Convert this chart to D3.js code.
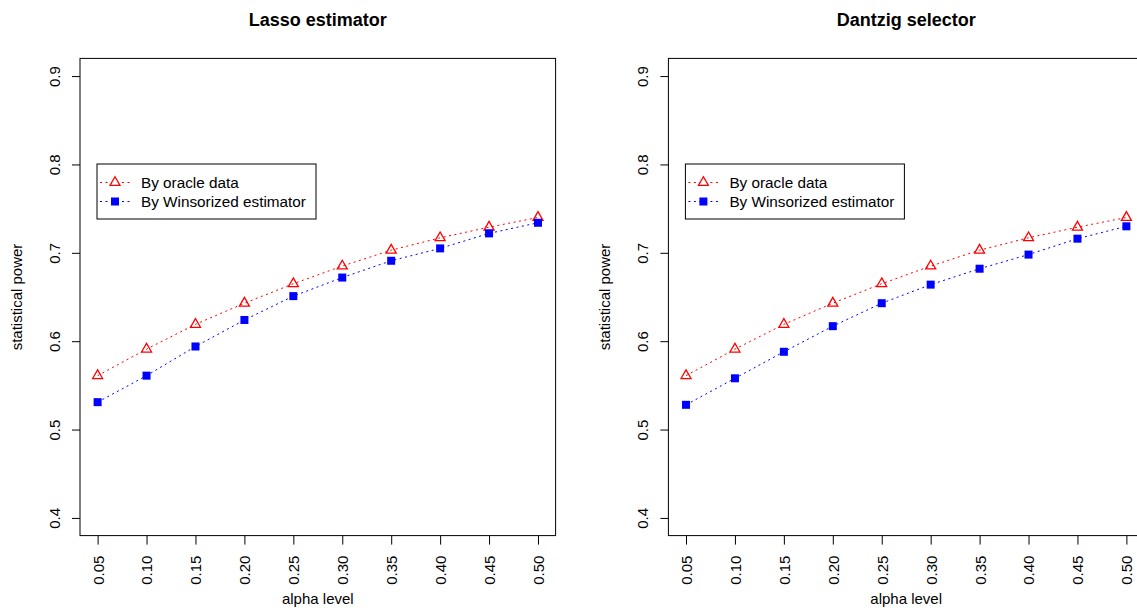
<!DOCTYPE html>
<html>
<head>
<meta charset="utf-8">
<script src="https://cdn.jsdelivr.net/npm/d3@7"></script>
<style>
  body { margin: 0; background: #fff; }
  svg { display: block; font-family: "Liberation Sans", Arial, Helvetica, sans-serif; }
</style>
</head>
<body>
<svg id="chart"></svg>
<script>
// Data
const alphaLevels = [0.05, 0.10, 0.15, 0.20, 0.25, 0.30, 0.35, 0.40, 0.45, 0.50];
const xTickLabels = ["0.05", "0.10", "0.15", "0.20", "0.25", "0.30", "0.35", "0.40", "0.45", "0.50"];
const yTicks = [0.4, 0.5, 0.6, 0.7, 0.8, 0.9];

const lassoOracle = [0.561, 0.591, 0.619, 0.643, 0.665, 0.685, 0.703, 0.717, 0.729, 0.740];
const lassoWinsor = [0.531, 0.561, 0.594, 0.624, 0.651, 0.672, 0.691, 0.705, 0.722, 0.734];
const dantzigOracle = [0.561, 0.591, 0.619, 0.643, 0.665, 0.685, 0.703, 0.717, 0.729, 0.740];
const dantzigWinsor = [0.528, 0.558, 0.588, 0.617, 0.643, 0.664, 0.682, 0.698, 0.716, 0.730];

const panelTitles = ["Lasso estimator", "Dantzig selector"];
const legendLabels = ["By oracle data", "By Winsorized estimator"];
const xLabel = "alpha level";
const yLabel = "statistical power";

const width = 1137;
const height = 608;

const svg = d3.select('#chart')
    .attr('width', width)
    .attr('height', height);

// R style: axis ranges padded by 4%
const xDomain = [0.032, 0.518];
const yDomain = [0.38, 0.92];
const plotW = 475.6;
const plotTop = 58.4;
const plotBottom = 535.6;

const triangle = 'M0,-5.8L5,2.9L-5,2.9Z';

function drawPanel(left, title, oracle, winsor) {
    const x = d3.scaleLinear().domain(xDomain).range([left, left + plotW]);
    const y = d3.scaleLinear().domain(yDomain).range([plotBottom, plotTop]);
    const g = svg.append('g');

    // plot box
    g.append('rect')
        .attr('x', left)
        .attr('y', plotTop)
        .attr('width', plotW)
        .attr('height', plotBottom - plotTop)
        .attr('fill', 'none')
        .attr('stroke', '#000')
        .attr('stroke-width', 1);

    // y axis
    const yAxis = g.append('g')
        .attr('transform', `translate(${left},0)`)
        .call(d3.axisLeft(y).tickValues(yTicks).tickSize(8).tickFormat(d3.format('.1f')));
    yAxis.select('.domain').remove();
    yAxis.selectAll('line').attr('stroke', '#000');
    yAxis.selectAll('text')
        .attr('transform', 'rotate(-90)')
        .attr('x', 0)
        .attr('y', -20)
        .attr('dy', 0)
        .style('text-anchor', 'middle')
        .style('font-size', '15px')
        .style('fill', '#000');

    // x axis
    const xAxis = g.append('g')
        .attr('transform', `translate(0,${plotBottom})`)
        .call(d3.axisBottom(x).tickValues(alphaLevels).tickSize(9).tickFormat((d, i) => xTickLabels[i]));
    xAxis.select('.domain').remove();
    xAxis.selectAll('line').attr('stroke', '#000');
    xAxis.selectAll('text')
        .attr('transform', 'rotate(-90)')
        .attr('x', -20)
        .attr('y', 5.4)
        .attr('dy', 0)
        .style('text-anchor', 'end')
        .style('font-size', '15px')
        .style('fill', '#000');

    // titles and labels
    const cx = left + plotW / 2;
    g.append('text')
        .attr('x', cx)
        .attr('y', 26)
        .attr('text-anchor', 'middle')
        .style('font-size', '18px')
        .style('font-weight', 'bold')
        .text(title);

    g.append('text')
        .attr('x', cx)
        .attr('y', 604)
        .attr('text-anchor', 'middle')
        .style('font-size', '15px')
        .text(xLabel);

    g.append('text')
        .attr('transform', `translate(${left - 58},${(plotTop + plotBottom) / 2}) rotate(-90)`)
        .attr('text-anchor', 'middle')
        .style('font-size', '15px')
        .text(yLabel);

    // lines
    const line = d3.line()
        .x((d, i) => x(alphaLevels[i]))
        .y(d => y(d));

    g.append('path')
        .datum(oracle)
        .attr('fill', 'none')
        .attr('stroke', 'red')
        .attr('stroke-width', 1)
        .attr('stroke-dasharray', '2,3.5')
        .attr('d', line);

    g.append('path')
        .datum(winsor)
        .attr('fill', 'none')
        .attr('stroke', 'blue')
        .attr('stroke-width', 1)
        .attr('stroke-dasharray', '2,3.5')
        .attr('d', line);

    // points
    g.selectAll('.tri')
        .data(oracle)
        .join('path')
        .attr('class', 'tri')
        .attr('transform', (d, i) => `translate(${x(alphaLevels[i])},${y(d)})`)
        .attr('d', triangle)
        .attr('fill', 'none')
        .attr('stroke', 'red')
        .attr('stroke-width', 1.3);

    g.selectAll('.sq')
        .data(winsor)
        .join('rect')
        .attr('class', 'sq')
        .attr('x', (d, i) => x(alphaLevels[i]) - 4)
        .attr('y', d => y(d) - 4)
        .attr('width', 8)
        .attr('height', 8)
        .attr('fill', 'blue');

    // legend
    const lx = left + 17;
    const ly = 164;
    const legend = g.append('g');
    legend.append('rect')
        .attr('x', lx)
        .attr('y', ly)
        .attr('width', 219)
        .attr('height', 55)
        .attr('fill', '#fff')
        .attr('stroke', '#000')
        .attr('stroke-width', 1);

    const rows = [
        { label: legendLabels[0], color: 'red', shape: 'tri' },
        { label: legendLabels[1], color: 'blue', shape: 'sq' }
    ];
    rows.forEach((r, i) => {
        const ry = ly + 18.5 + i * 19;
        legend.append('line')
            .attr('x1', lx + 3)
            .attr('x2', lx + 33)
            .attr('y1', ry)
            .attr('y2', ry)
            .attr('stroke', r.color)
            .attr('stroke-width', 1)
            .attr('stroke-dasharray', '2,3.5');
        if (r.shape === 'tri') {
            legend.append('path')
                .attr('transform', `translate(${lx + 18},${ry})`)
                .attr('d', triangle)
                .attr('fill', '#fff')
                .attr('stroke', r.color)
                .attr('stroke-width', 1.3);
        } else {
            legend.append('rect')
                .attr('x', lx + 14)
                .attr('y', ry - 4)
                .attr('width', 8)
                .attr('height', 8)
                .attr('fill', r.color);
        }
        legend.append('text')
            .attr('x', lx + 44)
            .attr('y', ry)
            .attr('dy', '0.35em')
            .style('font-size', '15.3px')
            .text(r.label);
    });
}

drawPanel(80, panelTitles[0], lassoOracle, lassoWinsor);
drawPanel(668.4, panelTitles[1], dantzigOracle, dantzigWinsor);
</script>
</body>
</html>
